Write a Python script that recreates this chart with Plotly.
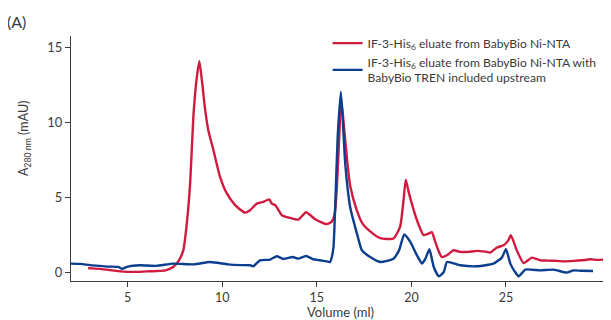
import plotly.graph_objects as go

# Red: IF-3-His6 eluate from BabyBio Ni-NTA
red_vol = [2.9, 3.5, 4.0, 4.5, 5.0, 5.5, 6.0, 6.5, 7.0, 7.4, 7.7, 7.94, 8.1, 8.3, 8.47, 8.65, 8.79,
           8.95, 9.1, 9.26, 9.53, 9.88, 10.24, 10.68, 11.12, 11.2, 11.47, 11.82, 12.17, 12.48, 12.62,
           12.8, 13.15, 13.59, 14.03, 14.43, 14.91, 15.52, 15.79, 15.95, 16.05, 16.18, 16.29,
           16.45, 16.6, 16.76, 17.1, 17.4, 17.82, 18.35, 19.05, 19.4, 19.58, 19.7, 19.85, 20.02,
           20.29, 20.64, 20.9, 21.08, 21.26, 21.45, 21.61, 21.88, 22.23, 22.58, 23.0, 23.46,
           23.9, 24.17, 24.52, 24.87, 25.1, 25.26, 25.57, 25.93, 26.37, 26.81, 27.2, 27.7,
           28.1, 28.58, 29.0, 29.46, 29.8, 30.17]
red_val = [0.3, 0.25, 0.18, 0.1, 0.05, 0.05, 0.08, 0.1, 0.15, 0.37, 0.8, 1.5, 3.0, 5.95, 10.4, 13.0, 14.1,
           12.5, 10.8, 9.5, 8.17, 6.39, 5.28, 4.5, 4.05, 4.0, 4.16, 4.6, 4.72, 4.88, 4.6,
           4.5, 3.83, 3.65, 3.54, 4.03, 3.56, 3.23, 3.4, 4.0, 5.5, 9.0, 11.6,
           9.5, 7.5, 5.8, 4.2, 3.3, 2.75, 2.3, 2.27, 3.05, 4.8, 6.2, 5.4, 4.6,
           3.5, 2.5, 2.6, 2.7, 2.05, 1.4, 1.04, 1.16, 1.49, 1.38, 1.38, 1.45,
           1.4, 1.34, 1.67, 1.82, 2.1, 2.49, 1.49, 0.64, 1.0, 0.82, 0.8, 0.78,
           0.75, 0.78, 0.82, 0.89, 0.85, 0.87]

# Blue: IF-3-His6 eluate from BabyBio Ni-NTA with BabyBio TREN included upstream
blue_vol = [2.0, 2.5, 3.0, 3.5, 4.0, 4.5, 4.7, 5.0, 5.65, 6.5, 7.4, 8.5, 9.35, 10.3, 11.0, 11.47,
            11.64, 12.0, 12.53, 12.88, 13.23, 13.73, 14.02, 14.43, 14.81, 15.17, 15.52, 15.7,
            15.79, 15.88, 15.97, 16.1, 16.27, 16.4, 16.5, 16.76, 17.12, 17.38, 17.82, 18.35,
            19.05, 19.35, 19.62, 19.94, 20.29, 20.56, 20.74, 20.95, 21.18, 21.45, 21.71, 21.88,
            22.58, 23.46, 24.34, 24.78, 25.0, 25.23, 25.45, 25.67, 26.02, 26.81, 27.52, 28.2,
            28.58, 29.0, 29.6]
blue_val = [0.6, 0.58, 0.5, 0.45, 0.4, 0.38, 0.25, 0.4, 0.49, 0.45, 0.6, 0.55, 0.71, 0.55, 0.5, 0.49,
            0.42, 0.82, 0.87, 1.09, 0.91, 1.04, 0.93, 1.11, 0.89, 0.82, 0.75, 0.71,
            1.04, 1.71, 4.38, 9.0, 12.06, 9.5, 7.28, 4.38, 2.6, 1.49, 1.04, 0.71,
            0.93, 1.5, 2.54, 2.05, 1.16, 0.6, 0.93, 1.56, 0.37, -0.25, 0.04, 0.71,
            0.49, 0.42, 0.6, 1.0, 1.56, 0.6, 0.1, -0.25, 0.2, 0.15, 0.2, 0.0,
            0.15, 0.12, 0.11]

red_name = "IF-3-His<sub>6</sub> eluate from BabyBio Ni-NTA"
blue_name = "IF-3-His<sub>6</sub> eluate from BabyBio Ni-NTA with<br>BabyBio TREN included upstream"

x_ticks = [5, 10, 15, 20, 25]
y_ticks = [0, 5, 10, 15]

RED = "#D01A3F"
BLUE = "#0B3E8E"
AX = "#3a3a3a"
FONT = "Lato"

fig = go.Figure()
fig.add_trace(go.Scatter(x=red_vol, y=red_val, mode="lines", name=red_name,
                         line=dict(color=RED, width=2.4, shape="spline", smoothing=0.5)))
fig.add_trace(go.Scatter(x=blue_vol, y=blue_val, mode="lines", name=blue_name,
                         line=dict(color=BLUE, width=2.4, shape="spline", smoothing=0.5)))

# The page body has an 8px margin, so the figure is 8px smaller than the window.
fig.update_layout(
    width=603, height=312,
    margin=dict(l=63, r=1, t=28, b=39, autoexpand=False),
    plot_bgcolor="white", paper_bgcolor="white",
    font=dict(family=FONT, size=12, color=AX),
    showlegend=True,
    legend=dict(x=0.476, y=1.03, xanchor="left", yanchor="top",
                bgcolor="rgba(0,0,0,0)", font=dict(size=12.1, color=AX),
                tracegroupgap=2, itemwidth=30),
    xaxis=dict(range=[2.0, 30.5], tickvals=x_ticks, ticks="outside", ticklen=5,
               tickcolor=AX, showline=True, linecolor=AX, linewidth=1.2,
               showgrid=False, zeroline=False, automargin=False,
               tickfont=dict(size=12.5)),
    yaxis=dict(range=[-0.56, 15.78], tickvals=y_ticks, ticks="outside", ticklen=5,
               tickcolor=AX, showline=True, linecolor=AX, linewidth=1.2,
               showgrid=False, zeroline=False, automargin=False,
               tickfont=dict(size=13)),
)
fig.add_annotation(text="Volume (ml)", xref="paper", yref="paper",
                   x=0.5, y=-0.126, xanchor="center", yanchor="middle",
                   showarrow=False, font=dict(size=13, color=AX))
fig.add_annotation(text="A<sub>280 nm</sub> (mAU)", xref="paper", yref="paper",
                   x=-0.085, y=0.584, xanchor="center", yanchor="middle",
                   textangle=-90, showarrow=False, font=dict(size=12.5, color=AX))
fig.add_annotation(text="(A)", xref="paper", yref="paper", x=-0.122, y=1.107,
                   xanchor="left", yanchor="top", showarrow=False,
                   font=dict(size=16, color=AX))

fig.write_html("out.html")
